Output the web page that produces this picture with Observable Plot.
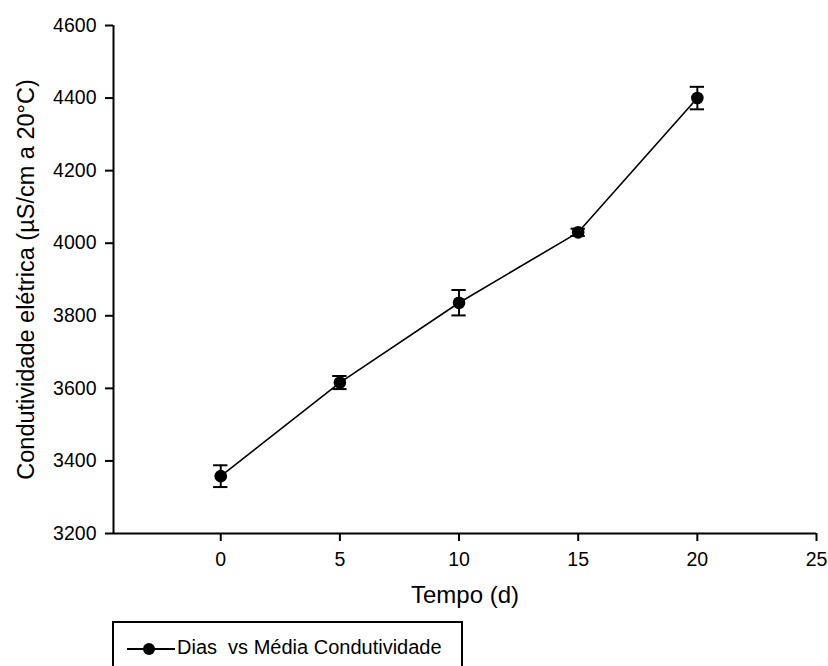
<!DOCTYPE html>
<html>
<head>
<meta charset="utf-8">
<script src="https://cdn.jsdelivr.net/npm/d3@7"></script>
<script src="https://cdn.jsdelivr.net/npm/@observablehq/plot@0.6"></script>
<style>
  html, body { margin: 0; padding: 0; background: #fff; overflow: hidden; }
  #wrap { position: relative; width: 828px; height: 666px; font-family: "Liberation Sans", Arial, sans-serif; }
  #legend { position: absolute; left: 112px; top: 621px; width: 351px; height: 70px; border: 2px solid #000; box-sizing: border-box; background: #fff; }
  #legend .ln { position: absolute; left: 13px; top: 25px; width: 48px; height: 2px; background: #000; }
  #legend .dt { position: absolute; left: 29px; top: 20px; width: 12px; height: 12px; border-radius: 50%; background: #000; }
  #legend .tx { position: absolute; left: 63px; top: 15px; font-size: 20px; line-height: 19px; white-space: pre; color: #000; }
</style>
</head>
<body>
<div id="wrap"></div>
<script>
// Data
const days = [0, 5, 10, 15, 20];
const means = [3358, 3616, 3836, 4030, 4400];
const errors = [30, 18, 35, 10, 31];
const xTicks = [0, 5, 10, 15, 20, 25];
const yTicks = [3200, 3400, 3600, 3800, 4000, 4200, 4400, 4600];
const xDomain = [-4.5, 25];
const yDomain = [3200, 4600];
const xTitle = "Tempo (d)";
const yTitle = "Condutividade elétrica (µS/cm a 20°C)";
const legendLabel = "Dias  vs Média Condutividade";

const data = days.map((d, i) => ({x: d, y: means[i], e: errors[i]}));
const capHalf = 0.3;

const chart = Plot.plot({
  width: 828,
  height: 612,
  marginLeft: 113,
  marginRight: 12,
  marginTop: 25,
  marginBottom: 79,
  x: {domain: xDomain},
  y: {domain: yDomain},
  style: {fontFamily: "'Liberation Sans', Arial, sans-serif", fontSize: "19px", color: "#000", background: "#fff", overflow: "visible"},
  marks: [
    Plot.ruleX([xDomain[0]], {stroke: "#000", strokeWidth: 2}),
    Plot.ruleY([yDomain[0]], {stroke: "#000", strokeWidth: 2}),
    Plot.axisX(xTicks, {tickSize: 8, tickPadding: 11, strokeWidth: 2, label: null, tickFormat: d => String(d)}),
    Plot.axisY(yTicks, {tickSize: 8, tickPadding: 9, strokeWidth: 2, label: null, tickFormat: d => String(d)}),
    Plot.line(data, {x: "x", y: "y", stroke: "#000", strokeWidth: 1.6}),
    Plot.ruleX(data, {x: "x", y1: d => d.y - d.e, y2: d => d.y + d.e, stroke: "#000", strokeWidth: 2}),
    Plot.ruleY(data, {y: d => d.y + d.e, x1: d => d.x - capHalf, x2: d => d.x + capHalf, stroke: "#000", strokeWidth: 2}),
    Plot.ruleY(data, {y: d => d.y - d.e, x1: d => d.x - capHalf, x2: d => d.x + capHalf, stroke: "#000", strokeWidth: 2}),
    Plot.dot(data, {x: "x", y: "y", r: 6.3, fill: "#000", stroke: "none"}),
    Plot.text([xTitle], {frameAnchor: "bottom", dy: 52, lineAnchor: "top", textAnchor: "middle", fontSize: 24, fill: "#000"}),
    Plot.text([yTitle], {frameAnchor: "left", rotate: -90, dx: -80, lineAnchor: "bottom", textAnchor: "middle", fontSize: 23.5, fill: "#000"})
  ]
});

// font sizes: tick labels 19.5px, titles set explicitly
d3.select(chart).selectAll("text").each(function() {
  const t = this.textContent;
  if (t === xTitle) { this.style.fontSize = "24px"; return; }
  if (t === yTitle) { this.style.fontSize = "23.5px"; return; }
  this.style.fontSize = "19.5px";
});

const wrap = document.getElementById("wrap");
wrap.appendChild(chart);

const legend = document.createElement("div");
legend.id = "legend";
legend.innerHTML = '<div class="ln"></div><div class="dt"></div><div class="tx"></div>';
legend.querySelector(".tx").textContent = legendLabel;
wrap.appendChild(legend);
</script>
</body>
</html>
